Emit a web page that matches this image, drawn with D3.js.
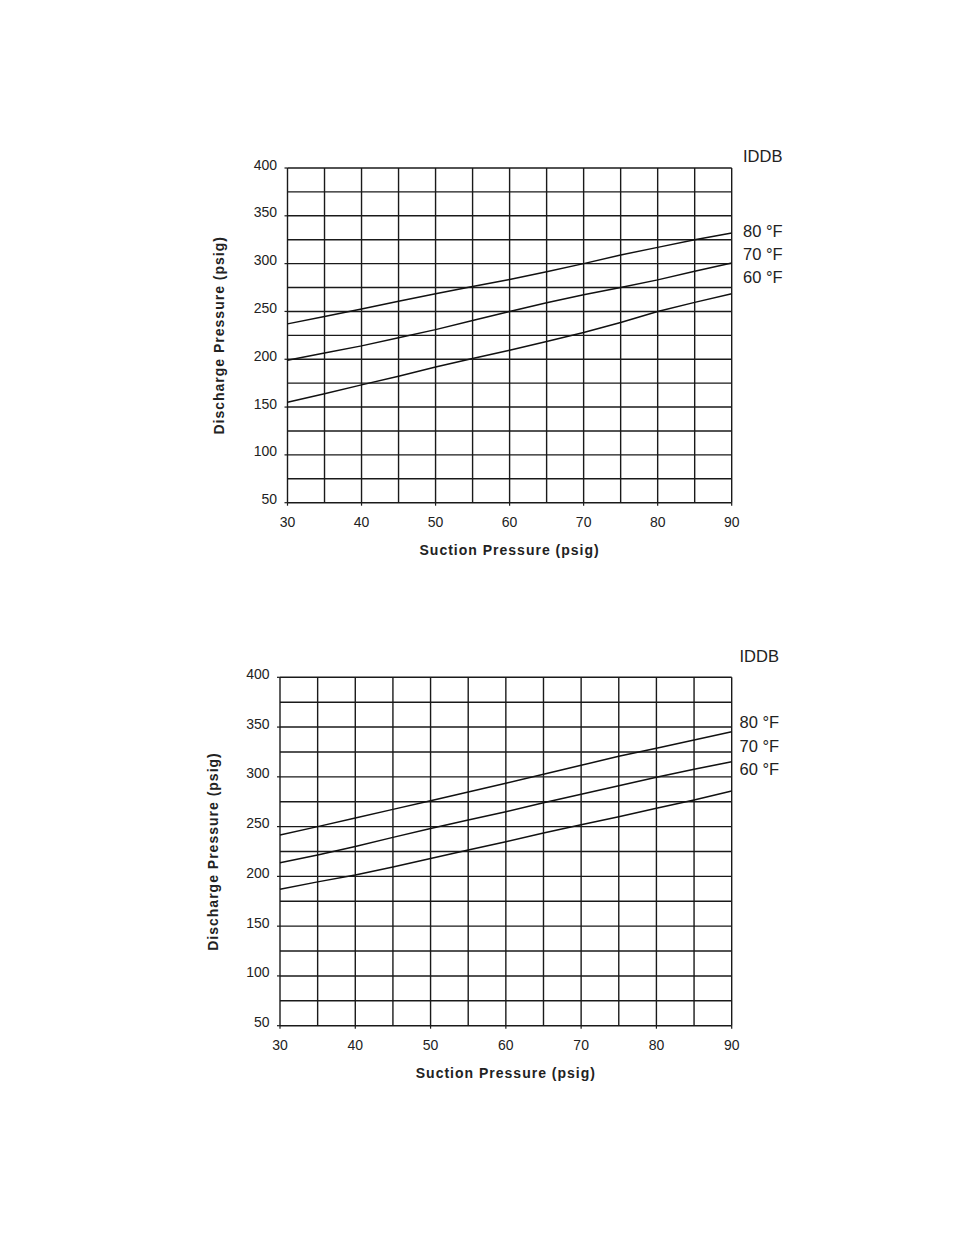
<!DOCTYPE html>
<html>
<head>
<meta charset="utf-8">
<script src="https://cdn.jsdelivr.net/npm/d3@7"></script>
<style>
  html, body { margin: 0; padding: 0; background: #fff; }
  svg { display: block; font-family: "Liberation Sans", Arial, sans-serif; }
</style>
</head>
<body>
<svg id="chart" width="954" height="1235"></svg>
<script>
// ---- data ----
const suction = [30, 35, 40, 45, 50, 55, 60, 65, 70, 75, 80, 85, 90];
const topIDDB80 = [237, 244.7, 252.5, 260.6, 268.5, 276, 283.5, 291.5, 300, 309, 317, 325, 332];
const topIDDB70 = [199, 206.5, 214, 222.5, 231, 240.5, 250, 259, 267.5, 275, 283, 292, 300.6];
const topIDDB60 = [155, 164, 173.2, 182.2, 191.8, 200.8, 209.5, 218.5, 228, 238.5, 250, 259.5, 268.6];
const botIDDB80 = [241.6, 250, 258.7, 267.3, 276, 284.8, 293.5, 302.5, 311.6, 320.6, 328.8, 337, 345.4];
const botIDDB70 = [213.7, 221.5, 230, 239.2, 248.2, 256.6, 265, 274, 282.6, 291, 299.5, 307.6, 315.2];
const botIDDB60 = [187, 194.5, 201.4, 209.5, 218, 226.5, 234.8, 243.5, 251.8, 260, 268.4, 276.8, 285.8];
const seriesLabels = ["80 °F", "70 °F", "60 °F"];
const legendTitle = "IDDB";
const xTickLabels = [30, 40, 50, 60, 70, 80, 90];
const yTickLabels = [50, 100, 150, 200, 250, 300, 350, 400];
const xGrid = [30, 35, 40, 45, 50, 55, 60, 65, 70, 75, 80, 85, 90];
const yGrid = [50, 75, 100, 125, 150, 175, 200, 225, 250, 275, 300, 325, 350, 375, 400];
const xTitle = "Suction Pressure (psig)";
const yTitle = "Discharge Pressure (psig)";

const svg = d3.select("#chart");
svg.append("rect").attr("width", 954).attr("height", 1235).attr("fill", "#fff");

function drawChart(cfg, series) {
  const x = d3.scaleLinear().domain([30, 90]).range([cfg.x0, cfg.x1]);
  const y = d3.scaleLinear().domain([50, 400]).range([cfg.y0, cfg.y1]);
  const g = svg.append("g");
  const ink = "#1a1a1a";

  // grid
  g.selectAll(".hg").data(yGrid).join("line")
    .attr("x1", x(30)).attr("x2", x(90))
    .attr("y1", d => y(d)).attr("y2", d => y(d))
    .attr("stroke", ink).attr("stroke-width", 1.4);
  g.selectAll(".vg").data(xGrid).join("line")
    .attr("y1", y(50)).attr("y2", y(400))
    .attr("x1", d => x(d)).attr("x2", d => x(d))
    .attr("stroke", ink).attr("stroke-width", 1.4);

  // ticks
  g.selectAll(".yt").data(yTickLabels).join("line")
    .attr("x1", x(30) - 3).attr("x2", x(30))
    .attr("y1", d => y(d)).attr("y2", d => y(d))
    .attr("stroke", ink).attr("stroke-width", 1.2);
  g.selectAll(".xt").data(xTickLabels).join("line")
    .attr("y1", y(50)).attr("y2", y(50) + 3)
    .attr("x1", d => x(d)).attr("x2", d => x(d))
    .attr("stroke", ink).attr("stroke-width", 1.2);

  // tick labels
  g.selectAll(".yl").data(yTickLabels).join("text")
    .attr("x", x(30) - 10.5).attr("y", d => y(d) + 1.5)
    .attr("text-anchor", "end").attr("font-size", 14).attr("fill", "#222")
    .text(d => d);
  g.selectAll(".xl").data(xTickLabels).join("text")
    .attr("x", d => x(d)).attr("y", y(50) + 24)
    .attr("text-anchor", "middle").attr("font-size", 14).attr("fill", "#222")
    .text(d => d);

  // axis titles
  g.append("text")
    .attr("x", (x(30) + x(90)) / 2).attr("y", y(50) + 52)
    .attr("text-anchor", "middle").attr("font-size", 14).attr("font-weight", "bold")
    .attr("letter-spacing", 1).attr("fill", "#222")
    .text(xTitle);
  g.append("text")
    .attr("transform", `translate(${cfg.yTitleX},${(y(50) + y(400)) / 2}) rotate(-90)`)
    .attr("text-anchor", "middle").attr("font-size", 14).attr("font-weight", "bold")
    .attr("letter-spacing", 1).attr("fill", "#222")
    .text(yTitle);

  // curves
  const line = d3.line().x((d, i) => x(suction[i])).y(d => y(d));
  series.forEach(s => {
    g.append("path").attr("d", line(s)).attr("fill", "none")
      .attr("stroke", "#111").attr("stroke-width", 1.5);
  });

  // legend
  g.append("text").attr("x", cfg.legX).attr("y", cfg.legTitleY)
    .attr("font-size", 16.5).attr("fill", "#222").text(legendTitle);
  g.selectAll(".lg").data(seriesLabels).join("text")
    .attr("x", cfg.legX).attr("y", (d, i) => cfg.legY + i * 23.2)
    .attr("font-size", 16.5).attr("fill", "#222").text(d => d);
}

drawChart({x0: 287.5, x1: 731.7, y0: 502.7, y1: 168, yTitleX: 224,
           legX: 743, legTitleY: 161.7, legY: 236.7},
          [topIDDB80, topIDDB70, topIDDB60]);
drawChart({x0: 280, x1: 731.7, y0: 1025.7, y1: 677.3, yTitleX: 217.5,
           legX: 739.5, legTitleY: 661.7, legY: 728.3},
          [botIDDB80, botIDDB70, botIDDB60]);
</script>
</body>
</html>
